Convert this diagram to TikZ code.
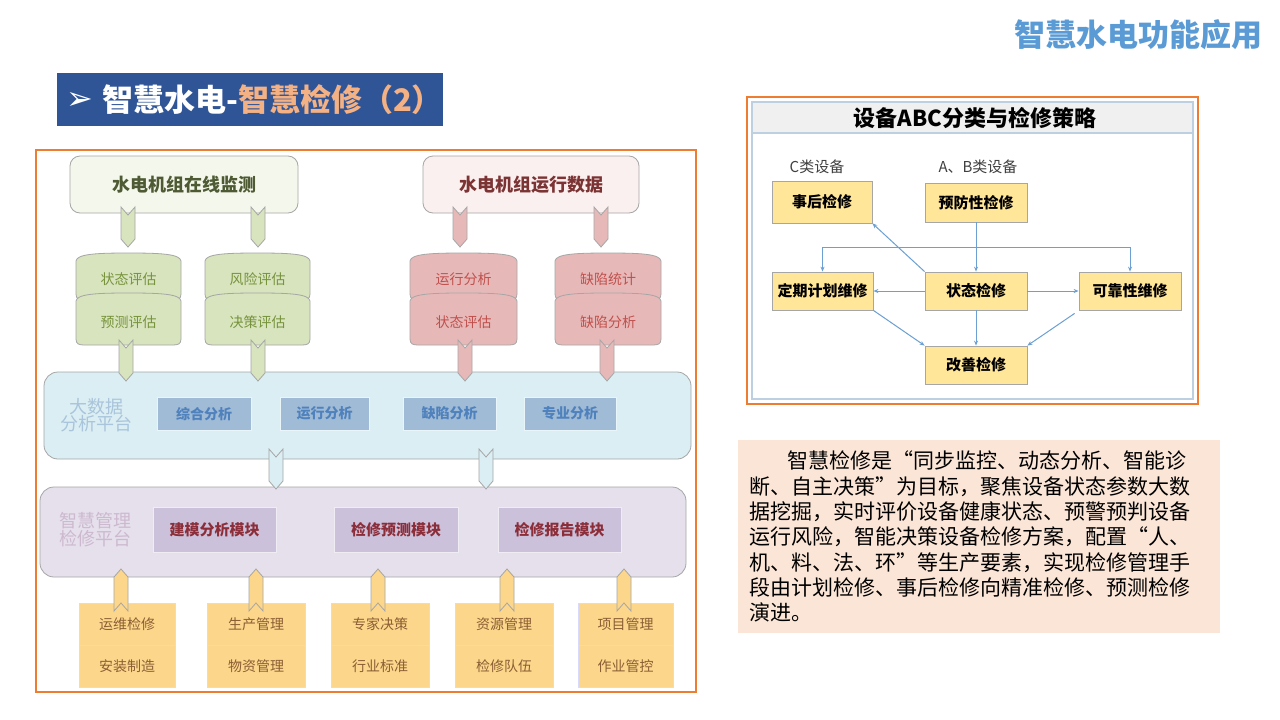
\documentclass[tikz,border=0pt]{standalone}
\usepackage{fontspec}
\setmainfont{Noto Sans CJK SC}
\newfontfamily\djv{DejaVu Sans}
\usetikzlibrary{arrows.meta,calc}
\definecolor{titleblue}{HTML}{5B9BD5}
\definecolor{bannerblue}{HTML}{2F5597}
\definecolor{titleorange}{HTML}{F4B183}
\definecolor{frameorange}{HTML}{ED7D31}
\definecolor{greenfill}{HTML}{D7E4BD}
\definecolor{greentop}{HTML}{F4F7EC}
\definecolor{greentoptext}{HTML}{4D5A33}
\definecolor{greentext}{HTML}{77933C}
\definecolor{pinkfill}{HTML}{E6B9B8}
\definecolor{pinktop}{HTML}{FBF0F0}
\definecolor{pinktoptext}{HTML}{7B3333}
\definecolor{pinktext}{HTML}{C0504D}
\definecolor{bdfill}{HTML}{DAEEF3}
\definecolor{bdinner}{HTML}{A0BBD5}
\definecolor{bdtext}{HTML}{4F81BD}
\definecolor{bdlabel}{HTML}{A9C4DB}
\definecolor{lvfill}{HTML}{E5E0EC}
\definecolor{lvinner}{HTML}{CCC1DA}
\definecolor{lvtext}{HTML}{8B2E3A}
\definecolor{lvlabel}{HTML}{CDB9CF}
\definecolor{yfill}{HTML}{FCD68B}
\definecolor{ytext}{HTML}{8B5E34}
\definecolor{edgegray}{HTML}{A6A6A6}
\definecolor{abcyellow}{HTML}{FFE699}
\definecolor{abcline}{HTML}{6C9FD2}
\definecolor{abcframe}{HTML}{BDD0E2}
\definecolor{peach}{HTML}{FBE5D6}
\newcommand\fsz[1]{\fontsize{#1}{#1}\selectfont}
\newcommand\mycyl[5]{%
  \path[draw=edgegray,line width=0.8pt,fill=#5] ({#1},{#3+8}) .. controls ({#1+1},{#3+1}) and ({#1+20},{#3}) .. ({(#1+#2)/2},{#3}) .. controls ({#2-20},{#3}) and ({#2-1},{#3+1}) .. ({#2},{#3+8}) -- ({#2},{#4-6}) .. controls ({#2},{#4-1}) and ({#2-3},{#4}) .. ({#2-8},{#4}) -- ({#1+8},{#4}) .. controls ({#1+3},{#4}) and ({#1},{#4-1}) .. ({#1},{#4-6}) -- cycle;}
\newcommand\chevdown[4]{%
  \path[draw=edgegray,line width=0.8pt,fill=#4] ({#1-7},{#2}) -- ({#1},{#2+8}) -- ({#1+7},{#2}) -- ({#1+7},{#3-8}) -- ({#1},{#3}) -- ({#1-7},{#3-8}) -- cycle;}
\newcommand\chevup[4]{%
  \path[draw=edgegray,line width=0.8pt,fill=#4] ({#1-7},{#3}) -- ({#1},{#3-8}) -- ({#1+7},{#3}) -- ({#1+7},{#2+8}) -- ({#1},{#2}) -- ({#1-7},{#2+8}) -- cycle;}
\tikzset{
  topbox/.style={draw=edgegray,line width=0.8pt,rounded corners=10pt,inner sep=0pt,font=\fsz{18}\bfseries},
  cyltxt/.style={inner sep=0pt,font=\fsz{14}},
  plat/.style={draw=edgegray,line width=0.8pt,rounded corners=14pt,inner sep=0pt},
  bdbox/.style={fill=bdinner,draw=bdfill!60!white,inner sep=0pt,minimum height=33pt,text=bdtext,font=\fsz{14}\bfseries},
  lvbox/.style={fill=lvinner,draw=lvfill!60!white,inner sep=0pt,minimum height=45pt,text=lvtext,font=\fsz{15}\bfseries},
  ybox/.style={fill=yfill,draw=white!85!blue,line width=0.7pt,inner sep=0pt,minimum height=42pt,text=ytext,font=\fsz{14}},
  abcbox/.style={fill=abcyellow,draw=edgegray,line width=0.8pt,inner sep=0pt,minimum height=38pt,font=\fsz{15}\bfseries},
  abcarr/.style={draw=abcline,line width=1pt,-{Stealth[length=5pt,width=4pt]}},
}
\begin{document}
\begin{tikzpicture}[x=1pt,y=-1pt]
\useasboundingbox (0,0) rectangle (1280,720);
\fill[white] (0,0) rectangle (1280,720);
% titles
\node[font=\fsz{31}\bfseries,text=titleblue,inner sep=0pt] (toptitle) at (1138,35) {智慧水电功能应用};
\node[fill=bannerblue,minimum width=386pt,minimum height=53pt,inner sep=0pt] (banner) at (250,99.5) {};
\node[anchor=west,text=white,inner sep=0pt,font=\djv\fsz{32}] (banarrow) at (66,101) {➢};
\node[anchor=west,text=white,font=\fsz{31}\bfseries,inner sep=0pt] (bantext) at (102,100) {智慧水电-\textcolor{titleorange}{智慧检修（2）}};
% left frame
\draw[frameorange,line width=1.6pt] (36,150) rectangle (696,692);
% top boxes
\node[topbox,fill=greentop,text=greentoptext,minimum width=228pt,minimum height=57pt] (mon) at (184,184.5) {水电机组在线监测};
\node[topbox,fill=pinktop,text=pinktoptext,minimum width=216pt,minimum height=57pt] (run) at (531,184.5) {水电机组运行数据};
% cylinders
\mycyl{76}{181}{253}{300}{greenfill}\mycyl{76}{181}{293}{345}{greenfill}
\mycyl{205}{310}{253}{300}{greenfill}\mycyl{205}{310}{293}{345}{greenfill}
\mycyl{410}{517}{253}{300}{pinkfill}\mycyl{410}{517}{293}{345}{pinkfill}
\mycyl{555}{661}{253}{300}{pinkfill}\mycyl{555}{661}{293}{345}{pinkfill}
\node[cyltxt,text=greentext] (g1a) at (128.5,279) {状态评估};
\node[cyltxt,text=greentext] (g1b) at (128.5,322) {预测评估};
\node[cyltxt,text=greentext] (g2a) at (257.5,279) {风险评估};
\node[cyltxt,text=greentext] (g2b) at (257.5,322) {决策评估};
\node[cyltxt,text=pinktext] (p1a) at (463.5,279) {运行分析};
\node[cyltxt,text=pinktext] (p1b) at (463.5,322) {状态评估};
\node[cyltxt,text=pinktext] (p2a) at (608,279) {缺陷统计};
\node[cyltxt,text=pinktext] (p2b) at (608,322) {缺陷分析};
% big data platform
\node[plat,fill=bdfill,minimum width=647pt,minimum height=87pt] (bd) at (367.5,415.5) {};
\node[align=center,inner sep=0pt,font=\fontsize{18}{17}\selectfont,text=bdlabel] (bdl) at (96,415) {大数据\\分析平台};
\node[bdbox,minimum width=94pt] (b1) at (204,414) {综合分析};
\node[bdbox,minimum width=89pt] (b2) at (324.5,413.5) {运行分析};
\node[bdbox,minimum width=93pt] (b3) at (449.5,413.5) {缺陷分析};
\node[bdbox,minimum width=92pt] (b4) at (570,413.5) {专业分析};
% smart management platform
\node[plat,fill=lvfill,minimum width=646pt,minimum height=90pt] (lv) at (363,532) {};
\node[align=left,inner sep=0pt,font=\fontsize{18}{18}\selectfont,text=lvlabel] (lvl) at (95,530) {智慧管理\\检修平台};
\node[lvbox,minimum width=123pt] (l1) at (214.5,529.5) {建模分析模块};
\node[lvbox,minimum width=124pt] (l2) at (396,529.5) {检修预测模块};
\node[lvbox,minimum width=123pt] (l3) at (559.5,529.5) {检修报告模块};
% bottom boxes
\node[ybox,minimum width=96pt] (y1a) at (127,624) {运维检修};
\node[ybox,minimum width=96pt] (y1b) at (127,666) {安装制造};
\node[ybox,minimum width=98pt] (y2a) at (256,624) {生产管理};
\node[ybox,minimum width=98pt] (y2b) at (256,666) {物资管理};
\node[ybox,minimum width=98pt] (y3a) at (380,624) {专家决策};
\node[ybox,minimum width=98pt] (y3b) at (380,666) {行业标准};
\node[ybox,minimum width=98pt] (y4a) at (504,624) {资源管理};
\node[ybox,minimum width=98pt] (y4b) at (504,666) {检修队伍};
\node[ybox,minimum width=95pt] (y5a) at (625.5,624) {项目管理};
\node[ybox,minimum width=95pt] (y5b) at (625.5,666) {作业管控};
% chevrons
\chevdown{128}{207}{247}{greenfill}\chevdown{258}{207}{247}{greenfill}
\chevdown{460}{207}{247}{pinkfill}\chevdown{601}{207}{247}{pinkfill}
\chevdown{126}{340}{381}{greenfill}\chevdown{258}{340}{381}{greenfill}
\chevdown{465}{340}{381}{pinkfill}\chevdown{607}{340}{381}{pinkfill}
\chevdown{276}{449}{489}{bdfill}\chevdown{486}{449}{489}{bdfill}
\chevup{121}{569}{611}{yfill}\chevup{256}{569}{611}{yfill}\chevup{378}{569}{611}{yfill}
\chevup{507}{569}{611}{yfill}\chevup{624}{569}{611}{yfill}
% ABC panel
\draw[frameorange,line width=1.4pt] (747,97) rectangle (1198,404);
\draw[abcframe,line width=1.4pt,fill=white] (752,102) rectangle (1193,399);
\draw[abcframe,line width=1.4pt,fill=black!6] (752,102) rectangle (1193,133);
\node[font=\fsz{22}\bfseries,inner sep=0pt] (abct) at (975,118) {设备ABC分类与检修策略};
\node[font=\fsz{15},text=black!75,inner sep=0pt] (cl) at (817,167) {C类设备};
\node[font=\fsz{15},text=black!75,inner sep=0pt] (abl) at (978,167) {A、B类设备};
\node[abcbox,minimum width=100pt,minimum height=42pt] (sh) at (822,202) {事后检修};
\node[abcbox,minimum width=102pt,minimum height=39pt] (yf) at (976,202.5) {预防性检修};
\node[abcbox,minimum width=101pt] (dq) at (822.5,291) {定期计划维修};
\node[abcbox,minimum width=102pt] (zt) at (976,291) {状态检修};
\node[abcbox,minimum width=102pt] (kk) at (1130,291) {可靠性维修};
\node[abcbox,minimum width=102pt] (gs) at (976,365) {改善检修};
\coordinate (hl) at (822.5,247);
\coordinate (hr) at (1130,247);
\draw[abcline,line width=1pt] (hl) -- (hr);
\draw[abcarr] (hl) -- (dq.north);
\draw[abcarr] (hr) -- (kk.north);
\draw[abcarr] (yf.south) -- (zt.north);
\draw[abcarr] (zt.north west) -- (sh.south east);
\draw[abcarr] (zt.west) -- (dq.east);
\draw[abcarr] (zt.east) -- (kk.west);
\draw[abcarr] (dq.south east) -- (gs.north west);
\draw[abcarr] (zt.south) -- (gs.north);
\coordinate (kks) at ($(kk.south west)+(-4,3)$);
\draw[abcarr] (kks) -- (gs.north east);
% text box
\node[fill=peach,minimum width=482pt,minimum height=193pt,inner sep=0pt] (tb) at (979,536.5) {};
\node[anchor=north west,align=left,inner sep=0pt,font=\fontsize{21}{25.3}\selectfont] (tbt) at (749,451) {%
\hspace*{38pt}智慧检修是“同步监控、动态分析、智能诊\\
断、自主决策”为目标，聚焦设备状态参数大数\\
据挖掘，实时评价设备健康状态、预警预判设备\\
运行风险，智能决策设备检修方案，配置“人、\\
机、料、法、环”等生产要素，实现检修管理手\\
段由计划检修、事后检修向精准检修、预测检修\\
演进。};
\end{tikzpicture}
\end{document}
